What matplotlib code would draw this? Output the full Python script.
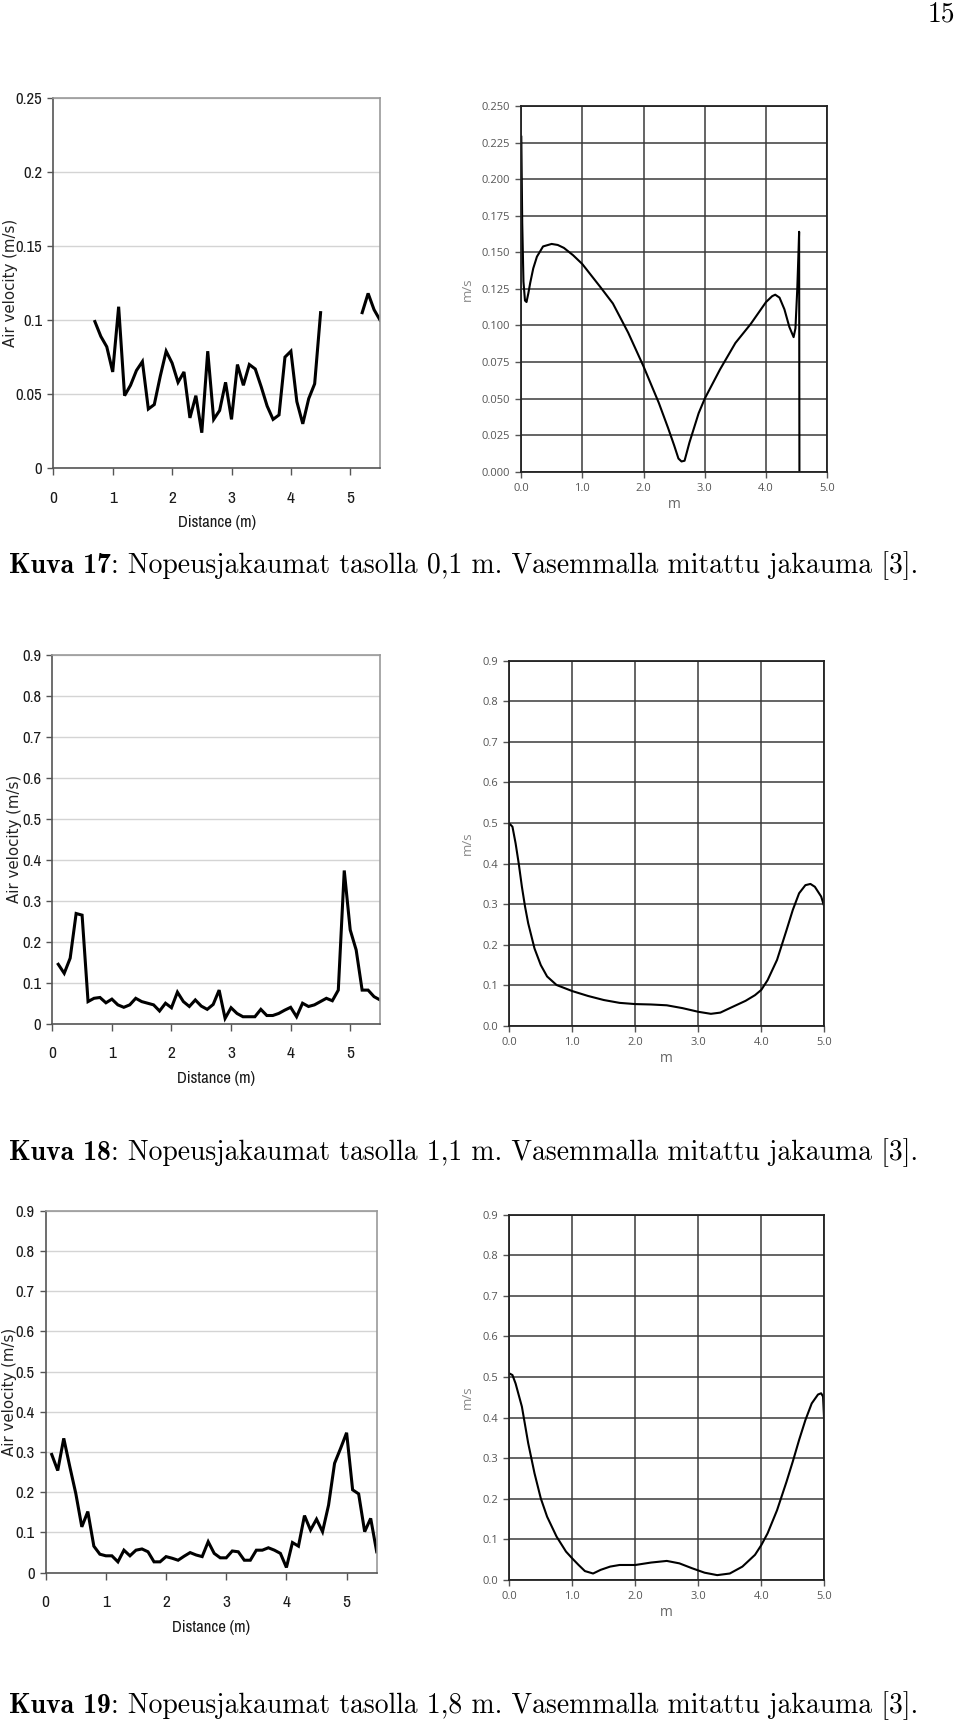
import numpy as np
import matplotlib
matplotlib.use("Agg")
import matplotlib.pyplot as plt
from matplotlib import font_manager as fm
from matplotlib.font_manager import FontProperties
import matplotlib.transforms as mtransforms

# ---------------- data ----------------
nan = np.nan
# Kuva 17 measured (left)
x1 = [0.7, 0.8, 0.9, 1.0, 1.1, 1.2, 1.3, 1.4, 1.5, 1.6,
      1.7, 1.8, 1.9, 2.0, 2.1, 2.2, 2.3, 2.4, 2.5, 2.6,
      2.7, 2.8, 2.9, 3.0, 3.1, 3.2, 3.3, 3.4, 3.5, 3.6,
      3.7, 3.8, 3.9, 4.0, 4.1, 4.2, 4.3, 4.4, 4.5,
      4.6, 4.7, 4.8, 4.9, 5.0, 5.1,
      5.2, 5.3, 5.4, 5.5]
y1 = [0.099, 0.089, 0.082, 0.065, 0.109, 0.049, 0.056, 0.066, 0.072, 0.040,
      0.043, 0.062, 0.079, 0.071, 0.058, 0.065, 0.034, 0.049, 0.024, 0.079,
      0.033, 0.039, 0.058, 0.033, 0.070, 0.056, 0.070, 0.067, 0.055, 0.042,
      0.033, 0.036, 0.075, 0.079, 0.045, 0.030, 0.047, 0.057, 0.105,
      nan, nan, nan, nan, nan, nan,
      0.105, 0.118, 0.107, 0.100]

# Kuva 17 simulated (right)
x2 = [0.005, 0.02, 0.04, 0.065, 0.09, 0.12, 0.15, 0.2, 0.26, 0.36,
      0.5, 0.6, 0.7, 0.85, 1.0, 1.15, 1.3, 1.5, 1.75, 2.0,
      2.25, 2.4, 2.5, 2.57, 2.62, 2.67, 2.75, 2.9, 3.0, 3.25,
      3.5, 3.75, 4.0, 4.1, 4.15, 4.22, 4.3, 4.38, 4.45, 4.48,
      4.51, 4.53, 4.54, 4.545]
y2 = [0.229, 0.17, 0.13, 0.117, 0.116, 0.122, 0.129, 0.139, 0.147, 0.154,
      0.1557, 0.155, 0.153, 0.148, 0.142, 0.134, 0.126, 0.115, 0.095, 0.072,
      0.047, 0.030, 0.018, 0.009, 0.007, 0.0075, 0.020, 0.040, 0.050, 0.070,
      0.088, 0.101, 0.116, 0.120, 0.121, 0.119, 0.111, 0.099, 0.092, 0.098,
      0.125, 0.150, 0.164, 0.0]

# Kuva 18/19 measured x positions
x35 = [0.1, 0.2, 0.3, 0.4, 0.5, 0.6, 0.7, 0.8, 0.9, 1.0,
       1.1, 1.2, 1.3, 1.4, 1.5, 1.6, 1.7, 1.8, 1.9, 2.0,
       2.1, 2.2, 2.3, 2.4, 2.5, 2.6, 2.7, 2.8, 2.9, 3.0,
       3.1, 3.2, 3.3, 3.4, 3.5, 3.6, 3.7, 3.8, 3.9, 4.0,
       4.1, 4.2, 4.3, 4.4, 4.5, 4.6, 4.7, 4.8, 4.9, 5.0,
       5.1, 5.2, 5.3, 5.4, 5.5]
y3 = [0.145, 0.123, 0.160, 0.269, 0.265, 0.054, 0.062, 0.064, 0.051, 0.060,
      0.046, 0.040, 0.046, 0.062, 0.054, 0.050, 0.046, 0.031, 0.050, 0.039,
      0.077, 0.054, 0.042, 0.058, 0.043, 0.035, 0.047, 0.082, 0.013, 0.039,
      0.025, 0.017, 0.017, 0.017, 0.035, 0.020, 0.020, 0.025, 0.033, 0.040,
      0.017, 0.050, 0.042, 0.046, 0.054, 0.062, 0.056, 0.082, 0.374, 0.229,
      0.180, 0.082, 0.082, 0.066, 0.058]
y5 = [0.294, 0.254, 0.334, 0.264, 0.197, 0.114, 0.152, 0.066, 0.046, 0.042,
      0.042, 0.027, 0.056, 0.042, 0.056, 0.059, 0.052, 0.027, 0.027, 0.040,
      0.036, 0.031, 0.041, 0.050, 0.044, 0.040, 0.077, 0.048, 0.037, 0.037,
      0.054, 0.052, 0.031, 0.031, 0.056, 0.056, 0.062, 0.056, 0.048, 0.013,
      0.075, 0.066, 0.142, 0.106, 0.133, 0.102, 0.168, 0.272, 0.309, 0.348,
      0.206, 0.196, 0.102, 0.135, 0.052]

# Kuva 18 simulated
x4 = [0.0, 0.05, 0.1, 0.15, 0.2, 0.25, 0.3, 0.4, 0.5, 0.6,
      0.75, 1.0, 1.25, 1.5, 1.75, 2.0, 2.25, 2.5, 2.75, 3.0,
      3.2, 3.35, 3.5, 3.75, 3.9, 4.0, 4.1, 4.25, 4.4, 4.5,
      4.6, 4.7, 4.78, 4.85, 4.95, 5.0, 5.0]
y4 = [0.499, 0.491, 0.45, 0.40, 0.343, 0.294, 0.253, 0.191, 0.150, 0.122,
      0.101, 0.086, 0.074, 0.064, 0.057, 0.054, 0.053, 0.051, 0.044, 0.035,
      0.030, 0.033, 0.044, 0.062, 0.076, 0.089, 0.113, 0.163, 0.236, 0.286,
      0.327, 0.347, 0.350, 0.343, 0.319, 0.294, 0.0]

# Kuva 19 simulated
x6 = [0.0, 0.05, 0.1, 0.2, 0.3, 0.4, 0.5, 0.6, 0.75, 0.9,
      1.0, 1.1, 1.2, 1.33, 1.45, 1.6, 1.75, 2.0, 2.25, 2.5,
      2.7, 2.9, 3.1, 3.3, 3.5, 3.7, 3.9, 4.0, 4.1, 4.25,
      4.4, 4.5, 4.6, 4.7, 4.8, 4.9, 4.95, 4.98, 5.0, 5.0]
y6 = [0.509, 0.505, 0.484, 0.427, 0.337, 0.263, 0.201, 0.156, 0.107, 0.070,
      0.053, 0.037, 0.022, 0.016, 0.025, 0.033, 0.037, 0.037, 0.043, 0.047,
      0.041, 0.029, 0.018, 0.012, 0.016, 0.033, 0.062, 0.086, 0.115, 0.172,
      0.242, 0.292, 0.345, 0.394, 0.435, 0.457, 0.460, 0.452, 0.386, 0.0]

# tick labels
left_xticks = [0, 1, 2, 3, 4, 5]
left_xlabels = ["0", "1", "2", "3", "4", "5"]
yt_small = [0, 0.05, 0.1, 0.15, 0.2, 0.25]
yl_small_left = ["0", "0.05", "0.1", "0.15", "0.2", "0.25"]
yt_big = [0, 0.1, 0.2, 0.3, 0.4, 0.5, 0.6, 0.7, 0.8, 0.9]
yl_big_left = ["0", "0.1", "0.2", "0.3", "0.4", "0.5", "0.6", "0.7", "0.8", "0.9"]
yt_fine = [0, 0.025, 0.05, 0.075, 0.1, 0.125, 0.15, 0.175, 0.2, 0.225, 0.25]
yl_fine_right = ["0.000", "0.025", "0.050", "0.075", "0.100", "0.125", "0.150",
                 "0.175", "0.200", "0.225", "0.250"]
yl_big_right = ["0.0", "0.1", "0.2", "0.3", "0.4", "0.5", "0.6", "0.7", "0.8", "0.9"]
right_xticks = [0, 1, 2, 3, 4, 5]
right_xlabels = ["0.0", "1.0", "2.0", "3.0", "4.0", "5.0"]

cap_bold = ["Kuva 17", "Kuva 18", "Kuva 19"]
cap_rest = [": Nopeusjakaumat tasolla 0,1 m. Vasemmalla mitattu jakauma [3].",
            ": Nopeusjakaumat tasolla 1,1 m. Vasemmalla mitattu jakauma [3].",
            ": Nopeusjakaumat tasolla 1,8 m. Vasemmalla mitattu jakauma [3]."]

# ---------------- fonts ----------------
ttf = fm.fontManager.ttflist


def find_narrow():
    def ok(f):
        return f.style == "normal" and f.weight in (400, "normal", "regular")
    for nm in ["Liberation Sans Narrow", "Arial Narrow", "Nimbus Sans Narrow"]:
        for f in ttf:
            if f.name == nm and ok(f):
                return FontProperties(fname=f.fname), True
    for f in ttf:
        if ("Narrow" in f.name or "Condensed" in f.name) and ok(f) and "Bold" not in f.fname:
            return FontProperties(fname=f.fname), True
    for f in ttf:
        st = str(f.stretch)
        if st in ("condensed", "semi-condensed", "extra-condensed") and ok(f) \
                and "Bold" not in f.fname and "Oblique" not in f.fname:
            return FontProperties(fname=f.fname), True
    return FontProperties(family="Liberation Sans"), False


NARROW_FP, HAVE_NARROW = find_narrow()
names = {f.name for f in ttf}
GEO = "Open Sans" if "Open Sans" in names else "DejaVu Sans"

W, H = 960, 1722
fig = plt.figure(figsize=(W / 100, H / 100), dpi=100)


def box(l, r, t, b):
    return [l / W, 1 - b / H, (r - l) / W, (b - t) / H]


def nfp(size):
    fp = NARROW_FP.copy()
    fp.set_size(size if HAVE_NARROW else size * 0.86)
    return fp


def left_panel(rect, x, y, yt, yl, ymax, label_x):
    ax = fig.add_axes(rect)
    ax.set_xlim(0, 5.5)
    ax.set_ylim(0, ymax)
    ax.set_yticks(yt)
    ax.set_yticklabels(yl, fontproperties=nfp(12), color="#1a1a1a")
    ax.set_xticks(left_xticks)
    ax.set_xticklabels(left_xlabels, fontproperties=nfp(12.5), color="#1a1a1a")
    ax.yaxis.grid(True, color="#d4d4d4", lw=1.0)
    ax.set_axisbelow(True)
    for s in ["left", "bottom"]:
        ax.spines[s].set_color("#555")
        ax.spines[s].set_linewidth(1.2)
    for s in ["top", "right"]:
        ax.spines[s].set_color("#999")
        ax.spines[s].set_linewidth(1.2)
    ax.tick_params(axis="y", length=4, width=1, color="#555", pad=4)
    ax.tick_params(axis="x", length=5, width=1, color="#555", pad=11)
    ax.plot(x, y, color="black", lw=2.2, solid_joinstyle="miter")
    ax.set_xlabel("Distance (m)", fontproperties=nfp(12), color="#1a1a1a", labelpad=7)
    ax.set_ylabel("Air velocity (m/s)", fontfamily="DejaVu Sans", fontsize=10.8,
                  color="#222")
    lab = ax.yaxis.label
    lab.set_verticalalignment("center")
    lab.set_rotation_mode("anchor")
    ax.yaxis.set_label_coords(label_x, 0.5,
                              transform=mtransforms.blended_transform_factory(
                                  fig.transFigure, ax.transAxes))
    return ax


def right_panel(rect, x, y, yt, yl, ymax, left_px, width_px):
    ax = fig.add_axes(rect)
    ax.set_xlim(0, 5)
    ax.set_ylim(0, ymax)
    ax.set_yticks(yt)
    ax.set_yticklabels(yl, fontfamily=GEO, fontsize=8, color="#555")
    ax.set_xticks(right_xticks)
    ax.set_xticklabels(right_xlabels, fontfamily=GEO, fontsize=8, color="#555")
    ax.grid(True, color="#3a3a3a", lw=1.1)
    ax.set_axisbelow(True)
    for s in ax.spines.values():
        s.set_color("#222")
        s.set_linewidth(1.3)
    ax.tick_params(length=4, width=1, color="#555", pad=4)
    ax.plot(x, y, color="black", lw=1.5)
    ax.set_xlabel("m", fontfamily=GEO, fontsize=10, color="#666", labelpad=2)
    ax.set_ylabel("m/s", fontfamily=GEO, fontsize=9.5, color="#888")
    lab = ax.yaxis.label
    lab.set_verticalalignment("center")
    lab.set_rotation_mode("anchor")
    ax.yaxis.set_label_coords((467 - left_px) / width_px, 0.5)
    return ax


left_panel(box(53.3, 380, 97.7, 468.3), x1, y1, yt_small, yl_small_left, 0.25, 11 / W)
right_panel(box(521, 827.3, 106, 471.7), x2, y2, yt_fine, yl_fine_right, 0.25, 521, 306.3)
left_panel(box(52.3, 380, 655, 1023.7), x35, y3, yt_big, yl_big_left, 0.9, 15 / W)
right_panel(box(509.3, 824.3, 660.7, 1026), x4, y4, yt_big, yl_big_right, 0.9, 509.3, 315)
left_panel(box(45.7, 376.7, 1210.7, 1572.7), x35, y5, yt_big, yl_big_left, 0.9, 10 / W)
right_panel(box(509.3, 824.3, 1214.7, 1580), x6, y6, yt_big, yl_big_right, 0.9, 509.3, 315)

renderer = fig.canvas.get_renderer()
cap_base = [573, 1160, 1713]
CAP_SIZE = 19.9
for cy, b, rest in zip(cap_base, cap_bold, cap_rest):
    yb = 1 - cy / H
    t1 = fig.text(9 / W, yb, b, fontfamily="cmb10", fontsize=CAP_SIZE,
                  va="baseline", ha="left", color="black")
    bb = t1.get_window_extent(renderer)
    fig.text(bb.x1 / W, yb, rest, fontfamily="cmr10", fontsize=CAP_SIZE,
             va="baseline", ha="left", color="black")

fig.text(955 / W, 1 - 21 / H, "15", fontfamily="cmr10", fontsize=CAP_SIZE,
         va="baseline", ha="right", color="black")

fig.savefig("out.png", dpi=100, facecolor="white")
